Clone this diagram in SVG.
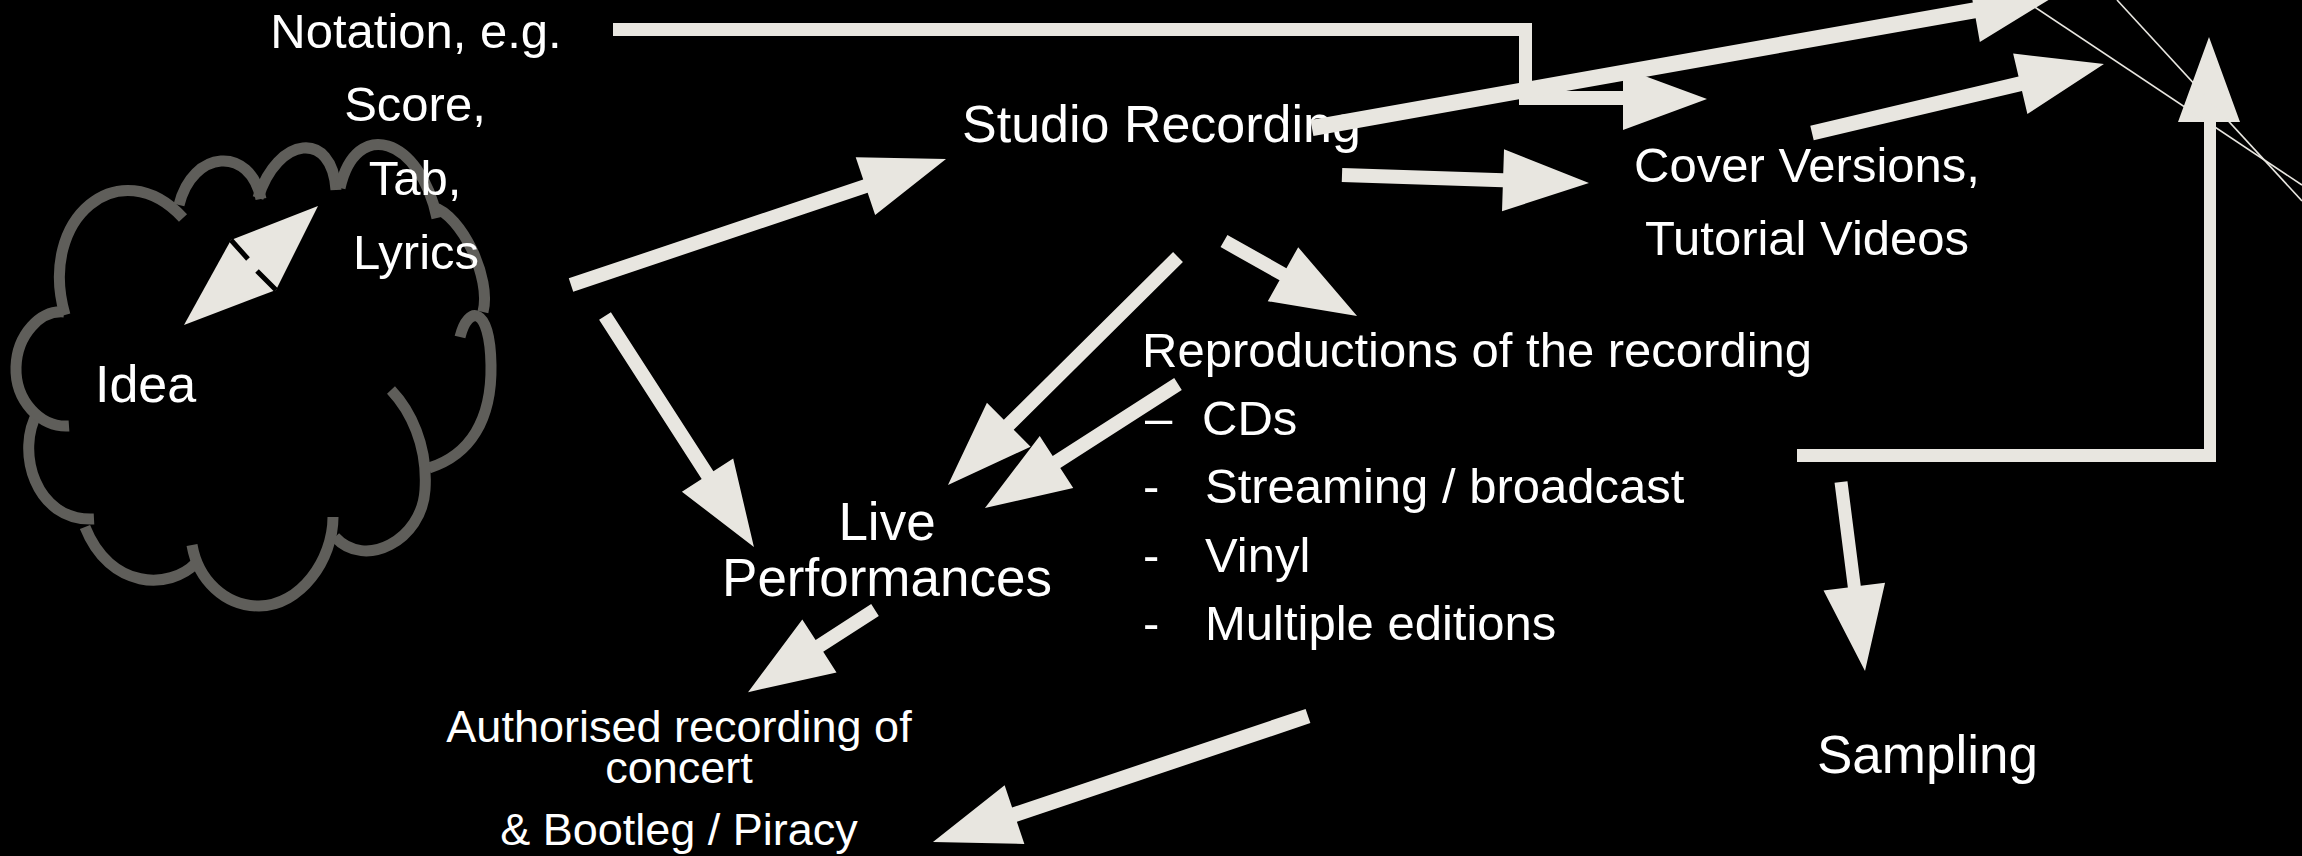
<svg xmlns="http://www.w3.org/2000/svg" width="2302" height="856" viewBox="0 0 2302 856">
  <style>
    .t { font-family: "Liberation Sans", Arial, sans-serif; fill: #ffffff; }
    .s49 { font-size: 49px; }
    .s45 { font-size: 45px; }
    .s52 { font-size: 52px; }
    .s53 { font-size: 53px; }
    .mid { text-anchor: middle; }
    .arrow { fill: #e8e6e0; }
    .thin { stroke: #e8e6e0; stroke-width: 1.6; fill: none; }
    .cloud { fill: none; stroke: #5f5e5a; stroke-width: 11; stroke-linecap: butt; }
  </style>
  <rect width="2302" height="856" fill="#000000"/>

  <!-- Idea cloud -->
  <g id="idea">
    <g class="cloud">
      <path d="M65,315 C37,218 120,150 183,218"/>
      <path d="M179,205 C192.6,149.4 250,145.2 261,199"/>
      <path d="M258,198 C277.7,135.5 332.3,129.9 336,190"/>
      <path d="M340,188 C355.8,117.1 419.8,136.9 437,218"/>
      <path d="M433,207 C461.7,215.3 491.7,278.3 483,312"/>
      <path d="M460,337 C468,305 490,305 491,365 C492,420 470,455 429,468"/>
      <path d="M391,390 C410,410 428,445 425,490 C422,540 365,570 335,537"/>
      <path d="M333,517 C333,560 300,606 259,606 C225,606 198,580 192,545"/>
      <path d="M196,563 C170,590 110,590 85,527"/>
      <path d="M38,412 C15,450 35,522 94,519"/>
      <path d="M69,426 C40,428 15,400 16,367 C17,335 40,310 64,312"/>
    </g>
    <text class="t s52" x="95" y="402">Idea</text>
  </g>

  <g id="notation">
    <text class="t s49 mid" x="416" y="48">Notation, e.g.</text>
    <text class="t s49 mid" x="415" y="121">Score,</text>
    <text class="t s49 mid" x="415" y="195">Tab,</text>
    <text class="t s49 mid" x="416" y="269">Lyrics</text>
  </g>

  <g id="studio-recording">
    <text class="t s52" x="962" y="142">Studio Recording</text>
  </g>

  <g id="cover-versions">
    <text class="t s49 mid" x="1807" y="182">Cover Versions,</text>
    <text class="t s49 mid" x="1807" y="255">Tutorial Videos</text>
  </g>

  <g id="reproductions">
    <text class="t s49" x="1142" y="367">Reproductions of the recording</text>
    <text class="t s49" x="1145" y="435">–</text>
    <text class="t s49" x="1202" y="435">CDs</text>
    <text class="t s49" x="1143" y="503">-</text>
    <text class="t s49" x="1205" y="503">Streaming / broadcast</text>
    <text class="t s49" x="1143" y="572">-</text>
    <text class="t s49" x="1205" y="572">Vinyl</text>
    <text class="t s49" x="1143" y="640">-</text>
    <text class="t s49" x="1205" y="640">Multiple editions</text>
  </g>

  <g id="live-performances">
    <text class="t s53 mid" x="887" y="540">Live</text>
    <text class="t s53 mid" x="887" y="596">Performances</text>
  </g>

  <g id="concert-recording">
    <text class="t s45 mid" x="679" y="742">Authorised recording of</text>
    <text class="t s45 mid" x="679" y="783">concert</text>
    <text class="t s45 mid" x="679" y="845">&amp; Bootleg / Piracy</text>
  </g>

  <g id="sampling">
    <text class="t s53" x="1817" y="773">Sampling</text>
  </g>

  <g id="connectors">
    <!-- double arrow inside the cloud -->
    <polygon class="arrow" points="318,206 231,240 184,325 276,290"/>
    <path d="M231,240 L248,259 M257,271 L276,290" stroke="#000" stroke-width="5" fill="none"/>

    <!-- notation to cover versions (elbow) -->
    <path class="arrow" d="M613,23 H1532 V91 H1623 V68 L1707,99 L1623,130 V105 H1519 V36 H613 Z"/>

    <!-- idea to studio recording -->
    <polygon class="arrow" transform="translate(571 285) rotate(-18.57)" points="0,-7 310.6,-7 310.6,-30.5 395.6,0 310.6,30.5 310.6,7 0,7"/>
    <!-- idea to live performances -->
    <polygon class="arrow" transform="translate(605 316) rotate(57.2)" points="0,-7 189.3,-7 189.3,-30.5 274.9,0 189.3,30.5 189.3,7 0,7"/>
    <!-- studio recording onward (long) -->
    <polygon class="arrow" transform="translate(1312 128) rotate(-10.07)" points="0,-8 672.6,-8 672.6,-32 754.6,0 672.6,32 672.6,8 0,8"/>
    <!-- studio recording to cover versions -->
    <polygon class="arrow" transform="translate(1342 175) rotate(1.86)" points="0,-7 161.1,-7 161.1,-31 247.1,0 161.1,31 161.1,7 0,7"/>
    <!-- cover versions onward -->
    <polygon class="arrow" transform="translate(1812 133) rotate(-13.3)" points="0,-7.5 214,-7.5 214,-31 300,0 214,31 214,7.5 0,7.5"/>
    <!-- studio recording to live performances -->
    <polygon class="arrow" transform="translate(1178 257) rotate(135.25)" points="0,-7 238.3,-7 238.3,-31 323.9,0 238.3,31 238.3,7 0,7"/>
    <!-- reproductions to live performances -->
    <polygon class="arrow" transform="translate(1178 384) rotate(147.3)" points="0,-7 144.4,-7 144.4,-31 229.4,0 144.4,31 144.4,7 0,7"/>
    <!-- studio recording to reproductions -->
    <polygon class="arrow" transform="translate(1224 241) rotate(29.4)" points="0,-7 67.7,-7 67.7,-31 152.7,0 67.7,31 67.7,7 0,7"/>
    <!-- live performances to concert recording -->
    <polygon class="arrow" transform="translate(875 610) rotate(147.1)" points="0,-7 66.2,-7 66.2,-31.5 151.2,0 66.2,31.5 66.2,7 0,7"/>
    <!-- reproductions to bootleg -->
    <polygon class="arrow" transform="translate(1308 716) rotate(161.44)" points="0,-7.5 309.6,-7.5 309.6,-31 395.6,0 309.6,31 309.6,7.5 0,7.5"/>
    <!-- to sampling -->
    <polygon class="arrow" transform="translate(1841 482) rotate(82.76)" points="0,-6.5 105.5,-6.5 105.5,-31 190.5,0 105.5,31 105.5,6.5 0,6.5"/>
    <!-- reproductions up the right side (elbow) -->
    <path class="arrow" d="M1797,449 H2204 V122 H2178 L2209,37 L2240,122 H2216 V462 H1797 Z"/>

    <!-- thin lines top right -->
    <line class="thin" x1="2030" y1="4" x2="2302" y2="185"/>
    <line class="thin" x1="2117" y1="0" x2="2302" y2="201"/>
  </g>
</svg>
